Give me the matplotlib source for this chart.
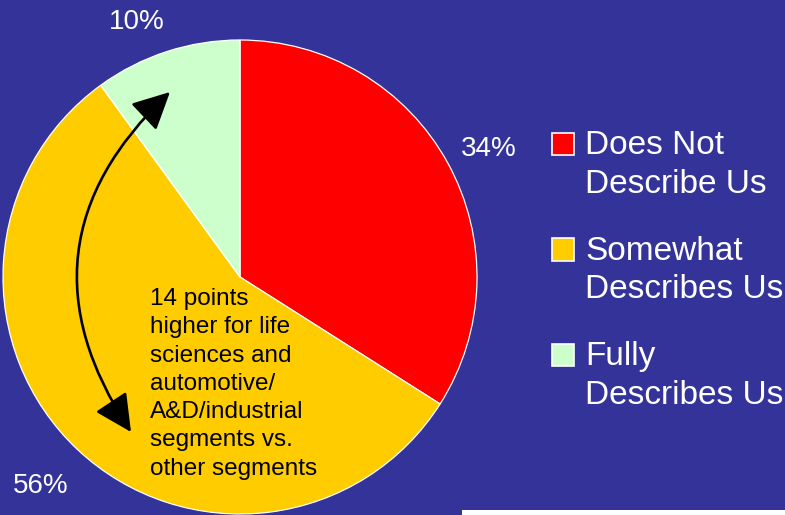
import matplotlib
matplotlib.use("Agg")
import numpy as np
import matplotlib.pyplot as plt
from matplotlib.patches import FancyArrowPatch, Rectangle

plt.rcParams['font.family'] = ['Liberation Sans', 'DejaVu Sans']

categories = ["Does Not\nDescribe Us", "Somewhat\nDescribes Us", "Fully\nDescribes Us"]
values = [34, 56, 10]
colors = ["#FF0000", "#FFCC00", "#CCFFCC"]
note = ("14 points\nhigher for life\nsciences and\nautomotive/\n"
        "A&D/industrial\nsegments vs.\nother segments")

# label placement tweaks (radius factor, angle offset in degrees)
label_radius = [1.18, 1.22, 1.16]
label_dangle = [-1.5, -0.5, 4.0]

W, H = 785, 515
fig = plt.figure(figsize=(W / 100, H / 100), dpi=100, facecolor="#333399")

# pie axes in pixel geometry: center (240,277), radius 237
cx, cy, r = 240, 277, 237
ax = fig.add_axes([(cx - r) / W, (H - cy - r) / H, 2 * r / W, 2 * r / H])
ax.set_facecolor("none")
wedges, texts = ax.pie(
    values, colors=colors, startangle=90, counterclock=False, radius=1,
    wedgeprops=dict(edgecolor="white", linewidth=0.9))
ax.set_xlim(-1, 1)
ax.set_ylim(-1, 1)
ax.set_aspect("equal")
ax.axis("off")

total = float(sum(values))
for w, v, rf, da in zip(wedges, values, label_radius, label_dangle):
    ang = np.deg2rad((w.theta1 + w.theta2) / 2 + da)
    ax.text(rf * np.cos(ang), rf * np.sin(ang), f"{v / total * 100:.0f}%",
            color="white", fontsize=20, ha="center", va="center")

# annotation text
fig.text(150 / W, 1 - 288 / H, note, fontsize=17.5, color="black",
         ha="left", va="top", linespacing=1.37)

# curved double arrow (pixel coords -> figure fraction)
p_bottom = (131 / W, 1 - 432 / H)
p_top = (170 / W, 1 - 92 / H)
arrow = FancyArrowPatch(p_bottom, p_top, transform=fig.transFigure,
                        connectionstyle="arc3,rad=-0.42",
                        arrowstyle="<|-|>,head_length=23,head_width=11.5",
                        mutation_scale=1, color="black", linewidth=1.9,
                        shrinkA=0, shrinkB=0)
fig.patches.append(arrow)

# legend (square aligned with first line of each two-line label)
for i, (cat, col) in enumerate(zip(categories, colors)):
    top = 133 + i * 105.5
    fig.patches.append(Rectangle((552 / W, 1 - (top + 22) / H), 22 / W, 22 / H,
                                 transform=fig.transFigure, facecolor=col,
                                 edgecolor="white", linewidth=1.2))
    fig.text(585 / W, 1 - (top - 3) / H, cat, fontsize=24, color="white",
             ha="left", va="top", linespacing=1.33)

# white strip at bottom right
fig.patches.append(Rectangle((462 / W, 0), (W - 462) / W, 5 / H,
                             transform=fig.transFigure, facecolor="white",
                             edgecolor="none"))

fig.savefig("out.png", dpi=100, facecolor=fig.get_facecolor())
